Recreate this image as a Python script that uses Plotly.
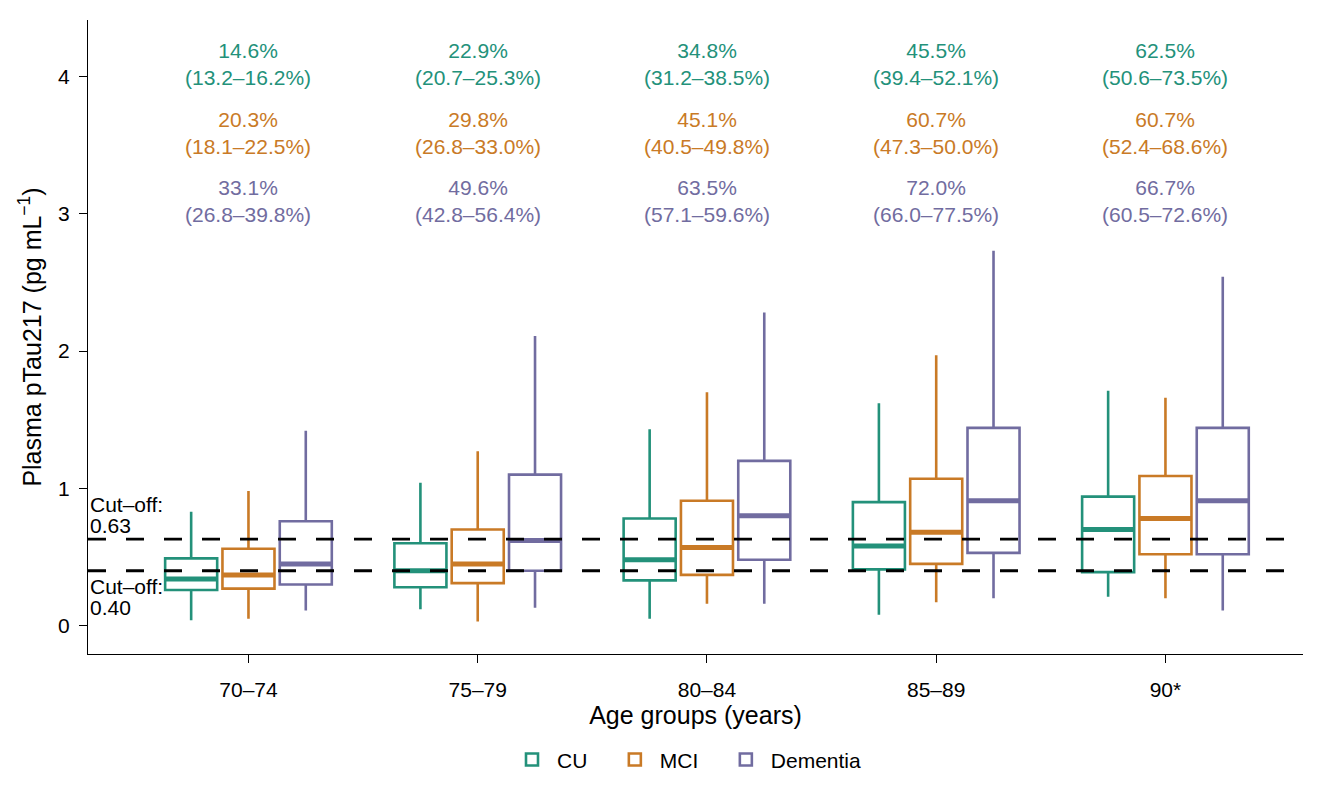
import plotly.graph_objects as go

# age groups and diagnostic groups
age_groups = ["70–74", "75–79", "80–84", "85–89", "90*"]
groups = ["CU", "MCI", "Dementia"]
colors = {"CU": "#23917a", "MCI": "#c97a26", "Dementia": "#716ca0"}

# box statistics (pg/mL)
lower = {
    "CU":       [0.04, 0.12, 0.05, 0.08, 0.21],
    "MCI":      [0.05, 0.03, 0.16, 0.17, 0.20],
    "Dementia": [0.11, 0.13, 0.16, 0.20, 0.11],
}
q1 = {
    "CU":       [0.26, 0.28, 0.33, 0.41, 0.39],
    "MCI":      [0.27, 0.31, 0.37, 0.45, 0.52],
    "Dementia": [0.30, 0.40, 0.48, 0.53, 0.52],
}
median = {
    "CU":       [0.34, 0.40, 0.48, 0.58, 0.70],
    "MCI":      [0.37, 0.45, 0.57, 0.68, 0.78],
    "Dementia": [0.45, 0.62, 0.80, 0.91, 0.91],
}
q3 = {
    "CU":       [0.49, 0.60, 0.78, 0.90, 0.94],
    "MCI":      [0.56, 0.70, 0.91, 1.07, 1.09],
    "Dementia": [0.76, 1.10, 1.20, 1.44, 1.44],
}
upper = {
    "CU":       [0.83, 1.04, 1.43, 1.62, 1.71],
    "MCI":      [0.98, 1.27, 1.70, 1.97, 1.66],
    "Dementia": [1.42, 2.11, 2.28, 2.73, 2.54],
}

# prevalence labels (% above cut-off with CI)
pct = {
    "CU":       ["14.6%", "22.9%", "34.8%", "45.5%", "62.5%"],
    "MCI":      ["20.3%", "29.8%", "45.1%", "60.7%", "60.7%"],
    "Dementia": ["33.1%", "49.6%", "63.5%", "72.0%", "66.7%"],
}
ci = {
    "CU":       ["(13.2–16.2%)", "(20.7–25.3%)", "(31.2–38.5%)", "(39.4–52.1%)", "(50.6–73.5%)"],
    "MCI":      ["(18.1–22.5%)", "(26.8–33.0%)", "(40.5–49.8%)", "(47.3–50.0%)", "(52.4–68.6%)"],
    "Dementia": ["(26.8–39.8%)", "(42.8–56.4%)", "(57.1–59.6%)", "(66.0–77.5%)", "(60.5–72.6%)"],
}
label_y = {"CU": 4.09, "MCI": 3.59, "Dementia": 3.09}

cutoffs = [0.63, 0.40]

FONT = "Liberation Sans, Arial, sans-serif"
box_w = 0.227
offsets = {"CU": -0.25, "MCI": 0.0, "Dementia": 0.25}
pad = "\u00a0" * 3  # widen legend entries a bit

fig = go.Figure()

for g in groups:
    xs = [i + offsets[g] for i in range(len(age_groups))]
    fig.add_trace(go.Box(
        x=xs, q1=q1[g], median=median[g], q3=q3[g],
        lowerfence=lower[g], upperfence=upper[g],
        name=g + pad, width=box_w, whiskerwidth=0,
        line=dict(color=colors[g], width=2.6),
        fillcolor="rgba(255,255,255,0)",
        boxpoints=False, hoverinfo="skip",
    ))
    # thicker median bar
    mx, my = [], []
    for x, m in zip(xs, median[g]):
        mx += [x - box_w / 2, x + box_w / 2, None]
        my += [m, m, None]
    fig.add_trace(go.Scatter(x=mx, y=my, mode="lines",
                             line=dict(color=colors[g], width=5),
                             showlegend=False, hoverinfo="skip"))
    for i in range(len(age_groups)):
        fig.add_annotation(x=i, y=label_y[g], text=pct[g][i] + "<br>" + ci[g][i],
                           showarrow=False, font=dict(size=21, color=colors[g], family=FONT),
                           xanchor="center", yanchor="middle")

for c in cutoffs:
    fig.add_shape(type="line", xref="paper", x0=0, x1=1, y0=c, y1=c,
                  line=dict(color="black", width=2.8, dash="18px,20px"))

# cut-off labels: upper one sits above its line, lower one below
for c, shifts in zip(cutoffs, [(35, 14), (-16, -37)]):
    for txt, s in zip(["Cut–off:", "%.2f" % c], shifts):
        fig.add_annotation(x=0, xref="paper", y=c, text=txt, showarrow=False,
                           xanchor="left", yanchor="middle", yshift=s,
                           font=dict(size=21, color="black", family=FONT))

# page body adds an 8px margin, so the figure is 8px smaller than the window
fig.update_layout(
    width=1336, height=788,
    margin=dict(l=80, r=41, t=12, b=142),
    plot_bgcolor="white", paper_bgcolor="white",
    font=dict(family=FONT, size=21, color="black"),
    showlegend=True,
    legend=dict(orientation="h", x=0.5, xanchor="center", y=-0.167, yanchor="middle",
                font=dict(size=21), itemwidth=40),
    xaxis=dict(range=[-0.70, 4.60], tickvals=list(range(len(age_groups))), ticktext=age_groups,
               showline=True, linecolor="black", linewidth=1.3, ticks="outside", ticklen=8,
               tickcolor="black", showgrid=False, zeroline=False, automargin=False,
               ticklabelstandoff=9,
               title=dict(text="Age groups (years)", standoff=1)),
    yaxis=dict(range=[-0.206, 4.41], tickvals=[0, 1, 2, 3, 4],
               showline=True, linecolor="black", linewidth=1.3, ticks="outside", ticklen=8,
               tickcolor="black", showgrid=False, zeroline=False, ticklabelstandoff=5,
               automargin=False,
               title=dict(text="Plasma pTau217 (pg mL<sup>−1</sup>)", standoff=9)),
)

fig.write_html("out.html")
